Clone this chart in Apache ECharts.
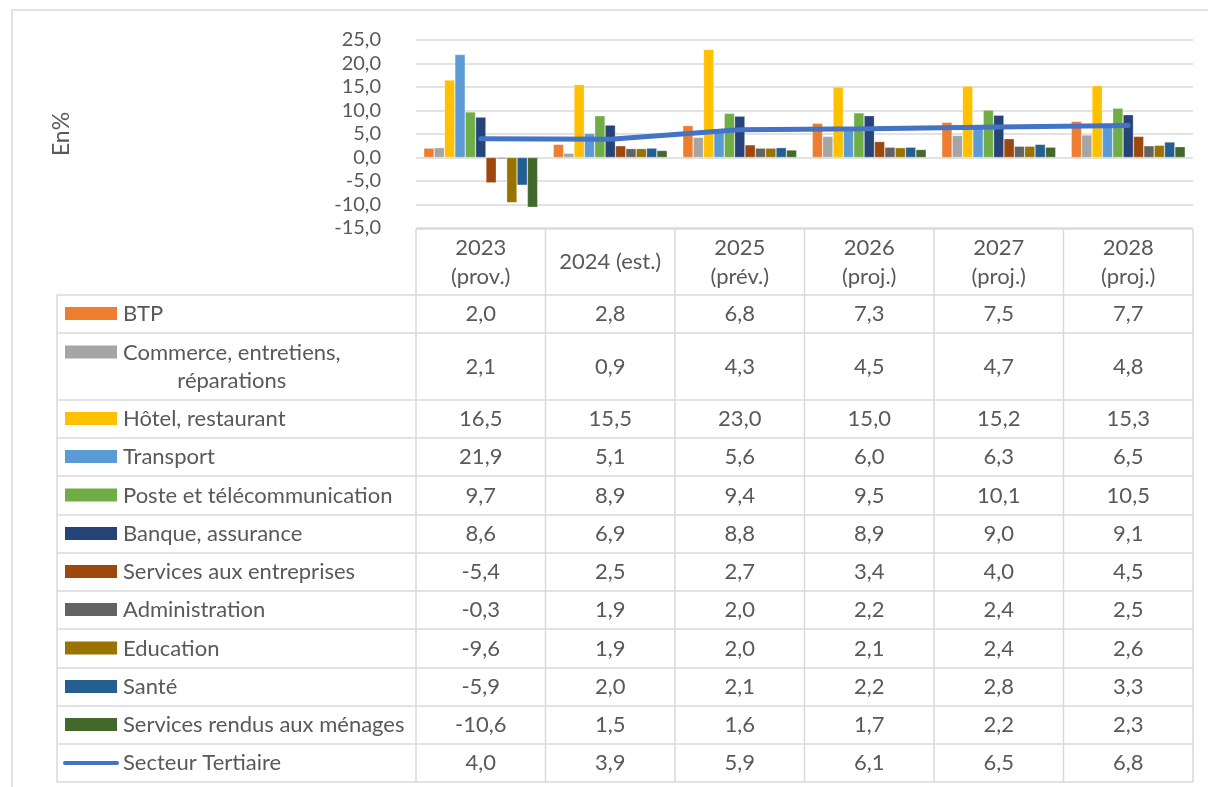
<!DOCTYPE html>
<html><head><meta charset="utf-8">
<script src="https://cdn.jsdelivr.net/npm/echarts@6/dist/echarts.min.js"></script>
<style>html,body{margin:0;padding:0;background:#fff}#c{width:1208px;height:787px}</style>
</head><body><div id="c"></div>
<script>
// ---- data ----
const categories = ['2023\n(prov.)', '2024 (est.)', '2025\n(prév.)', '2026\n(proj.)', '2027\n(proj.)', '2028\n(proj.)'];
const yTicks = [-15, -10, -5, 0, 5, 10, 15, 20, 25];
const seriesNames = ['BTP', 'Commerce, entretiens,\nréparations', 'Hôtel, restaurant', 'Transport', 'Poste et télécommunication', 'Banque, assurance', 'Services aux entreprises', 'Administration', 'Education', 'Santé', 'Services rendus aux ménages', 'Secteur Tertiaire'];
const btp = [2.0, 2.8, 6.8, 7.3, 7.5, 7.7];
const commerce = [2.1, 0.9, 4.3, 4.5, 4.7, 4.8];
const hotel = [16.5, 15.5, 23.0, 15.0, 15.2, 15.3];
const transport = [21.9, 5.1, 5.6, 6.0, 6.3, 6.5];
const poste = [9.7, 8.9, 9.4, 9.5, 10.1, 10.5];
const banque = [8.6, 6.9, 8.8, 8.9, 9.0, 9.1];
const servEntreprises = [-5.4, 2.5, 2.7, 3.4, 4.0, 4.5];
const administration = [-0.3, 1.9, 2.0, 2.2, 2.4, 2.5];
const education = [-9.6, 1.9, 2.0, 2.1, 2.4, 2.6];
const sante = [-5.9, 2.0, 2.1, 2.2, 2.8, 3.3];
const servMenages = [-10.6, 1.5, 1.6, 1.7, 2.2, 2.3];
const tertiaire = [4.0, 3.9, 5.9, 6.1, 6.5, 6.8];

const allValues = [btp, commerce, hotel, transport, poste, banque, servEntreprises, administration, education, sante, servMenages, tertiaire];
const colors = ['#ED7D31', '#A5A5A5', '#FFC000', '#5B9BD5', '#70AD47', '#264478', '#9E480E', '#636363', '#997300', '#255E91', '#43682B', '#4472C4'];

// ---- layout ----
const FONT = 'Lato, "Open Sans", sans-serif';
const TXT = '#595959';
const BORDER = '#D9D9D9';
const plotL = 416, plotR = 1193, plotT = 40, plotB = 228;
const tableL = 57, headTop = 229, headBot = 295;
const rowH = [38, 67, 38, 38, 39, 38, 38, 38, 39, 38, 38, 38];
const fs = 22;

const fmt = v => v.toFixed(1).replace('.', ',');

const chart = echarts.init(document.getElementById('c'));
const ctx = document.createElement('canvas').getContext('2d');
ctx.font = fs + 'px ' + FONT;

const graphic = [];
// outer border
graphic.push({type: 'rect', shape: {x: 12, y: 10, width: 1220, height: 800}, style: {fill: 'none', stroke: BORDER, lineWidth: 1.5}, silent: true});

const colW = (plotR - plotL) / categories.length;
const rowTops = [];
let yy = headBot;
for (const h of rowH) { rowTops.push(yy); yy += h; }
const tableBot = yy;

// horizontal lines
graphic.push({type: 'line', shape: {x1: plotL, y1: headTop, x2: plotR, y2: headTop}, style: {stroke: BORDER, lineWidth: 1.5}, silent: true});
for (let i = 0; i <= rowH.length; i++) {
  const y = i < rowH.length ? rowTops[i] : tableBot;
  graphic.push({type: 'line', shape: {x1: tableL, y1: y, x2: plotR, y2: y}, style: {stroke: BORDER, lineWidth: 1.5}, silent: true});
}
// vertical lines
graphic.push({type: 'line', shape: {x1: tableL, y1: headBot, x2: tableL, y2: tableBot}, style: {stroke: BORDER, lineWidth: 1.5}, silent: true});
for (let c = 0; c <= categories.length; c++) {
  const x = plotL + c * colW;
  graphic.push({type: 'line', shape: {x1: x, y1: headTop, x2: x, y2: tableBot}, style: {stroke: BORDER, lineWidth: 1.5}, silent: true});
}

// rows
seriesNames.forEach((name, i) => {
  const top = rowTops[i], h = rowH[i];
  const lines = name.split('\n');
  const cy = top + h / 2;
  const firstY = cy - (lines.length - 1) * 14;
  // key
  if (i === seriesNames.length - 1) {
    graphic.push({type: 'line', shape: {x1: 65, y1: firstY, x2: 117, y2: firstY}, style: {stroke: colors[i], lineWidth: 4, lineCap: 'round'}, silent: true});
  } else {
    graphic.push({type: 'rect', shape: {x: 65, y: firstY - 7, width: 52, height: 13}, style: {fill: colors[i]}, silent: true});
  }
  // label
  const w0 = ctx.measureText(lines[0]).width;
  const cx = 123 + w0 / 2;
  lines.forEach((ln, k) => {
    graphic.push({type: 'text', x: lines.length > 1 ? cx : 123, y: firstY + k * 28,
      style: {text: ln, font: fs + 'px ' + FONT, fill: TXT, align: lines.length > 1 ? 'center' : 'left', verticalAlign: 'middle'}, silent: true});
  });
  // values
  allValues[i].forEach((v, c) => {
    graphic.push({type: 'text', x: plotL + (c + 0.5) * colW, y: cy,
      style: {text: fmt(v), font: fs + 'px ' + FONT, fill: TXT, align: 'center', verticalAlign: 'middle'}, silent: true});
  });
});

const series = allValues.slice(0, 11).map((vals, i) => ({
  name: seriesNames[i], type: 'bar', data: vals, barGap: '0%', barCategoryGap: '12%',
  itemStyle: {color: colors[i], borderColor: 'rgba(255,255,255,0.45)', borderWidth: 0.6}, silent: true, animation: false
}));
series.push({
  name: seriesNames[11], type: 'line', data: tertiaire, symbol: 'none', z: 5,
  lineStyle: {color: colors[11], width: 5, cap: 'round'}, itemStyle: {color: colors[11]}, animation: false, silent: true
});

chart.setOption({
  animation: false,
  grid: {left: plotL, right: 1208 - plotR, top: plotT, bottom: 787 - plotB, containLabel: false},
  xAxis: {type: 'category', data: categories, axisLine: {show: false}, axisTick: {show: false},
    axisLabel: {color: TXT, fontFamily: FONT, fontSize: fs, lineHeight: 29, margin: 34, verticalAlign: 'middle', interval: 0}},
  yAxis: {type: 'value', min: yTicks[0], max: yTicks[yTicks.length - 1], interval: 5,
    name: 'En%', nameLocation: 'middle', nameRotate: 90, nameGap: 343,
    nameTextStyle: {color: TXT, fontFamily: FONT, fontSize: 23},
    axisLine: {show: false}, axisTick: {show: false},
    axisLabel: {color: TXT, fontFamily: FONT, fontSize: 20, margin: 35, formatter: v => fmt(v)},
    splitLine: {lineStyle: {color: BORDER, width: 1.5}}},
  series: series,
  graphic: graphic
});
</script></body></html>
